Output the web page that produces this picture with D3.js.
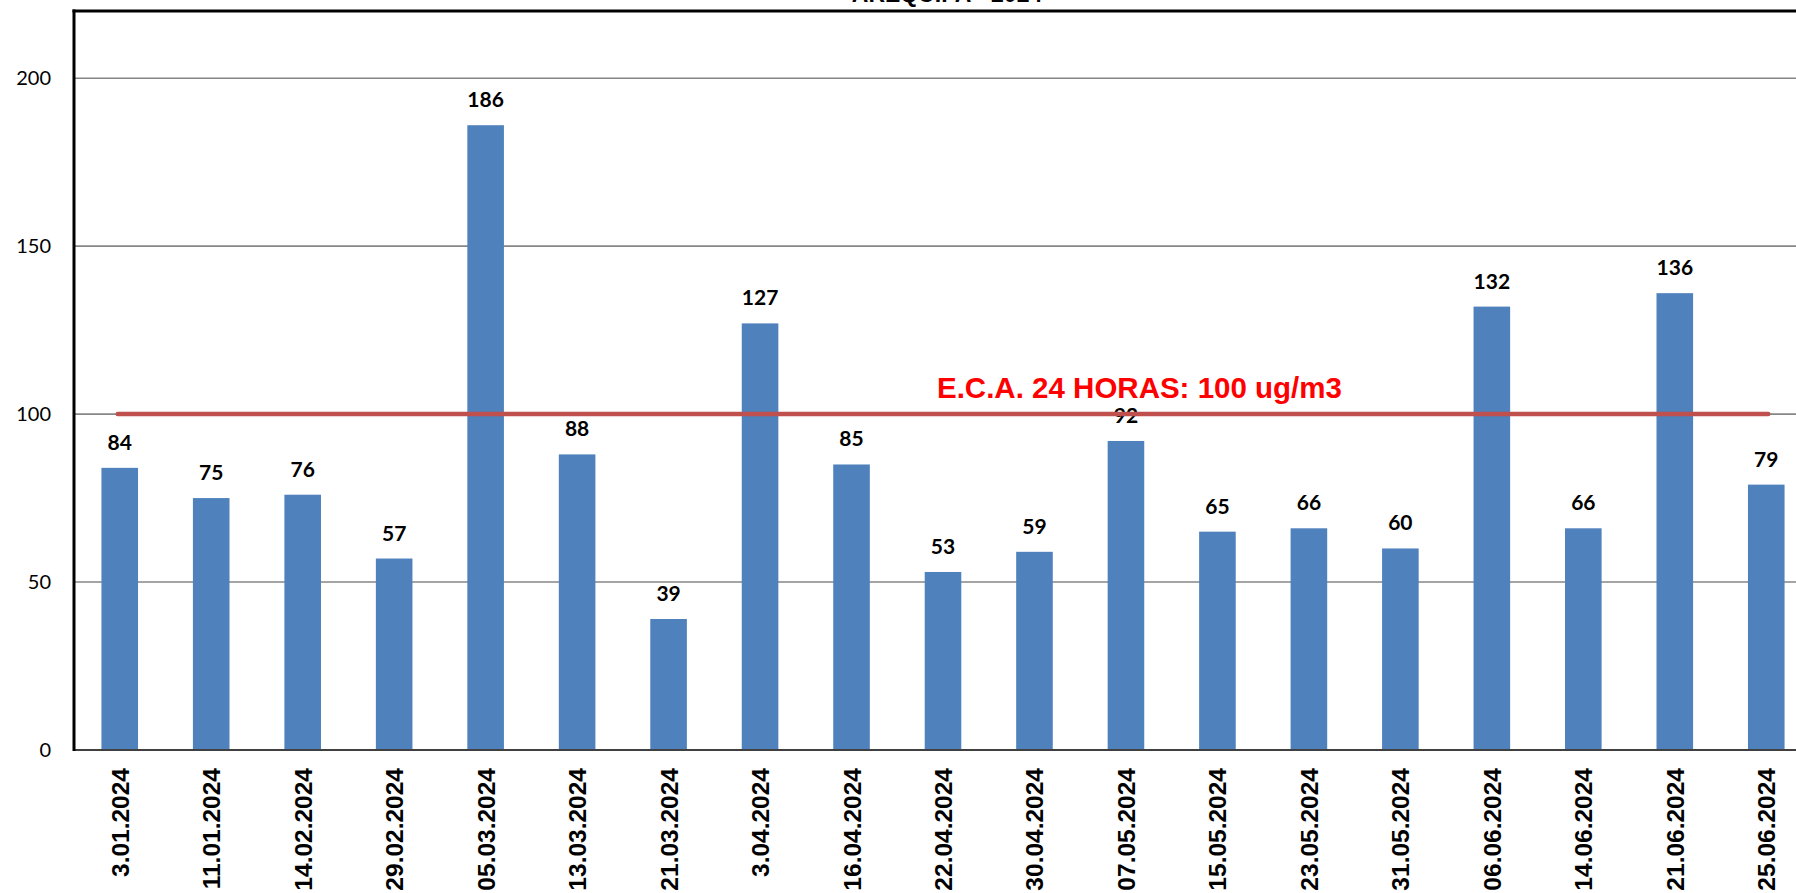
<!DOCTYPE html>
<html>
<head>
<meta charset="utf-8">
<script src="https://cdn.jsdelivr.net/npm/d3@7"></script>
<style>
  html, body { margin: 0; padding: 0; background: #fff; overflow: hidden; }
  svg { display: block; }
</style>
</head>
<body>
<svg id="chart" width="1796" height="893"></svg>
<script>
const categories = ["3.01.2024","11.01.2024","14.02.2024","29.02.2024","05.03.2024","13.03.2024","21.03.2024","3.04.2024","16.04.2024","22.04.2024","30.04.2024","07.05.2024","15.05.2024","23.05.2024","31.05.2024","06.06.2024","14.06.2024","21.06.2024","25.06.2024"];
const values = [84,75,76,57,186,88,39,127,85,53,59,92,65,66,60,132,66,136,79];
const yTicks = [0,50,100,150,200];
const limitValue = 100;
const limitLabel = "E.C.A. 24 HORAS: 100 ug/m3";
const title = "AREQUIPA - 2024";

const svg = d3.select("#chart");
const pLeft = 74, pTop = 11, pBottom = 750, pRight = 1812;

const x = d3.scaleBand().domain(categories).range([pLeft, pRight]).paddingInner(0.6).paddingOuter(0.3);
const y = d3.scaleLinear().domain([0, 220]).range([pBottom, pTop]);

// title (cut off at the top)
svg.append("text").attr("x", 947).attr("y", 2).attr("text-anchor", "middle")
  .attr("font-family", "Liberation Sans, Arial, sans-serif").attr("font-weight", "bold")
  .attr("font-size", 23).attr("fill", "#000").text(title);

// grid lines
svg.append("g").selectAll("line").data(yTicks.filter(d => d > 0)).join("line")
  .attr("x1", pLeft).attr("x2", pRight).attr("y1", d => y(d)).attr("y2", d => y(d))
  .attr("stroke", "#868686").attr("stroke-width", 1.6);

// y tick labels
svg.append("g").selectAll("text").data(yTicks).join("text")
  .attr("x", 51).attr("y", d => y(d)).attr("dy", "0.35em").attr("text-anchor", "end")
  .attr("font-family", "Lato, sans-serif").attr("font-size", 20).attr("fill", "#000")
  .text(d => d);

// bars
svg.append("g").selectAll("rect").data(values).join("rect")
  .attr("x", (d, i) => x(categories[i])).attr("width", x.bandwidth())
  .attr("y", d => y(d)).attr("height", d => y(0) - y(d))
  .attr("fill", "#4F81BD");

// value labels
svg.append("g").selectAll("text").data(values).join("text")
  .attr("x", (d, i) => x(categories[i]) + x.bandwidth() / 2).attr("y", d => y(d) - 18)
  .attr("text-anchor", "middle").attr("font-family", "Lato, sans-serif")
  .attr("font-weight", "bold").attr("font-size", 21).attr("fill", "#000")
  .text(d => d);

// limit line
svg.append("line")
  .attr("x1", x(categories[0]) + x.bandwidth() / 2 - 2)
  .attr("x2", x(categories[categories.length - 1]) + x.bandwidth() / 2 + 2)
  .attr("y1", y(limitValue)).attr("y2", y(limitValue))
  .attr("stroke", "#C0504D").attr("stroke-width", 4.5).attr("stroke-linecap", "round");

svg.append("text")
  .attr("x", x(categories[9]) + x.bandwidth() / 2 - 6).attr("y", y(limitValue) - 16)
  .attr("font-family", "Liberation Sans, Arial, sans-serif").attr("font-weight", "bold")
  .attr("font-size", 29.5).attr("fill", "#FF0000").text(limitLabel);

// axes / frame
svg.append("line").attr("x1", pLeft).attr("x2", pRight).attr("y1", pBottom).attr("y2", pBottom)
  .attr("stroke", "#404040").attr("stroke-width", 2);
svg.append("line").attr("x1", pLeft - 1.5).attr("x2", pRight).attr("y1", pTop).attr("y2", pTop)
  .attr("stroke", "#000").attr("stroke-width", 3);
svg.append("line").attr("x1", pLeft).attr("x2", pLeft).attr("y1", pTop - 1.5).attr("y2", pBottom + 1)
  .attr("stroke", "#000").attr("stroke-width", 3);

// x labels
svg.append("g").selectAll("text").data(categories).join("text")
  .attr("transform", d => `translate(${x(d) + x.bandwidth() / 2 + 9},768) rotate(-90)`)
  .attr("text-anchor", "end").attr("font-family", "Liberation Sans, Arial, sans-serif")
  .attr("font-weight", "bold").attr("font-size", 24.5).attr("fill", "#000")
  .text(d => d);
</script>
</body>
</html>
